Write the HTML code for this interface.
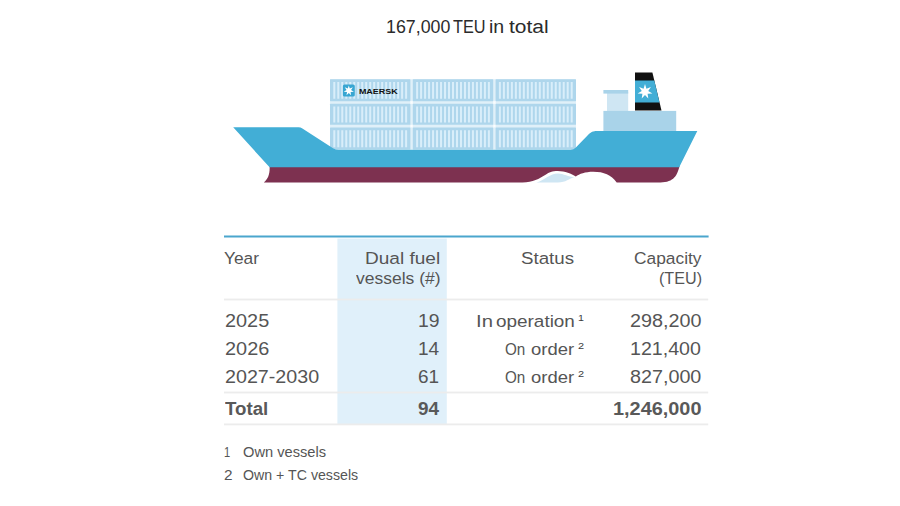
<!DOCTYPE html>
<html><head><meta charset="utf-8"><title>Dual fuel vessels</title>
<style>
html,body{margin:0;padding:0;background:#fff;}
body{width:900px;height:506px;position:relative;overflow:hidden;font-family:"Liberation Sans",sans-serif;}
.t{position:absolute;white-space:nowrap;line-height:1;display:inline-block;}
</style></head><body>
<svg width="900" height="506" viewBox="0 0 900 506" style="position:absolute;left:0;top:0">
<!-- table decoration -->
<rect x="337.4" y="238.6" width="109.4" height="185.6" fill="#e0f0fa"/>
<rect x="224" y="235.5" width="484.6" height="2" fill="#4ba6cd"/>
<rect x="224" y="298.6" width="484.2" height="1.8" fill="#ececec"/>
<rect x="224" y="391.6" width="484.2" height="1.8" fill="#ececec"/>
<rect x="224" y="423.5" width="484.2" height="1.8" fill="#ececec"/>
<!-- containers -->
<rect x="330.0" y="79.2" width="246.00" height="70.40" fill="#e0f0f9"/>
<rect x="410.40" y="101.20" width="2.4" height="2.60" fill="#fbfdfe"/>
<rect x="493.20" y="101.20" width="2.4" height="2.60" fill="#fbfdfe"/>
<rect x="410.40" y="124.80" width="2.4" height="2.60" fill="#fbfdfe"/>
<rect x="493.20" y="124.80" width="2.4" height="2.60" fill="#fbfdfe"/>
<rect x="330.00" y="79.20" width="80.4" height="22.00" rx="0.6" fill="#aed6ec"/>
<path d="M333.30,82.00h2v16.80h-2z M337.29,82.00h2v16.80h-2z M341.28,82.00h2v16.80h-2z M345.27,82.00h2v16.80h-2z M349.26,82.00h2v16.80h-2z M353.24,82.00h2v16.80h-2z M357.23,82.00h2v16.80h-2z M361.22,82.00h2v16.80h-2z M365.21,82.00h2v16.80h-2z M369.20,82.00h2v16.80h-2z M373.19,82.00h2v16.80h-2z M377.18,82.00h2v16.80h-2z M381.17,82.00h2v16.80h-2z M385.16,82.00h2v16.80h-2z M389.14,82.00h2v16.80h-2z M393.13,82.00h2v16.80h-2z M397.12,82.00h2v16.80h-2z M401.11,82.00h2v16.80h-2z M405.10,82.00h2v16.80h-2z" fill="#d9eefa"/>
<rect x="412.80" y="79.20" width="80.4" height="22.00" rx="0.6" fill="#aed6ec"/>
<path d="M416.10,82.00h2v16.80h-2z M420.09,82.00h2v16.80h-2z M424.08,82.00h2v16.80h-2z M428.07,82.00h2v16.80h-2z M432.06,82.00h2v16.80h-2z M436.04,82.00h2v16.80h-2z M440.03,82.00h2v16.80h-2z M444.02,82.00h2v16.80h-2z M448.01,82.00h2v16.80h-2z M452.00,82.00h2v16.80h-2z M455.99,82.00h2v16.80h-2z M459.98,82.00h2v16.80h-2z M463.97,82.00h2v16.80h-2z M467.96,82.00h2v16.80h-2z M471.94,82.00h2v16.80h-2z M475.93,82.00h2v16.80h-2z M479.92,82.00h2v16.80h-2z M483.91,82.00h2v16.80h-2z M487.90,82.00h2v16.80h-2z" fill="#d9eefa"/>
<rect x="495.60" y="79.20" width="80.4" height="22.00" rx="0.6" fill="#aed6ec"/>
<path d="M498.90,82.00h2v16.80h-2z M502.89,82.00h2v16.80h-2z M506.88,82.00h2v16.80h-2z M510.87,82.00h2v16.80h-2z M514.86,82.00h2v16.80h-2z M518.84,82.00h2v16.80h-2z M522.83,82.00h2v16.80h-2z M526.82,82.00h2v16.80h-2z M530.81,82.00h2v16.80h-2z M534.80,82.00h2v16.80h-2z M538.79,82.00h2v16.80h-2z M542.78,82.00h2v16.80h-2z M546.77,82.00h2v16.80h-2z M550.76,82.00h2v16.80h-2z M554.74,82.00h2v16.80h-2z M558.73,82.00h2v16.80h-2z M562.72,82.00h2v16.80h-2z M566.71,82.00h2v16.80h-2z M570.70,82.00h2v16.80h-2z" fill="#d9eefa"/>
<rect x="330.00" y="103.80" width="80.4" height="21.00" rx="0.6" fill="#aed6ec"/>
<path d="M333.30,106.60h2v15.80h-2z M337.29,106.60h2v15.80h-2z M341.28,106.60h2v15.80h-2z M345.27,106.60h2v15.80h-2z M349.26,106.60h2v15.80h-2z M353.24,106.60h2v15.80h-2z M357.23,106.60h2v15.80h-2z M361.22,106.60h2v15.80h-2z M365.21,106.60h2v15.80h-2z M369.20,106.60h2v15.80h-2z M373.19,106.60h2v15.80h-2z M377.18,106.60h2v15.80h-2z M381.17,106.60h2v15.80h-2z M385.16,106.60h2v15.80h-2z M389.14,106.60h2v15.80h-2z M393.13,106.60h2v15.80h-2z M397.12,106.60h2v15.80h-2z M401.11,106.60h2v15.80h-2z M405.10,106.60h2v15.80h-2z" fill="#d9eefa"/>
<rect x="412.80" y="103.80" width="80.4" height="21.00" rx="0.6" fill="#aed6ec"/>
<path d="M416.10,106.60h2v15.80h-2z M420.09,106.60h2v15.80h-2z M424.08,106.60h2v15.80h-2z M428.07,106.60h2v15.80h-2z M432.06,106.60h2v15.80h-2z M436.04,106.60h2v15.80h-2z M440.03,106.60h2v15.80h-2z M444.02,106.60h2v15.80h-2z M448.01,106.60h2v15.80h-2z M452.00,106.60h2v15.80h-2z M455.99,106.60h2v15.80h-2z M459.98,106.60h2v15.80h-2z M463.97,106.60h2v15.80h-2z M467.96,106.60h2v15.80h-2z M471.94,106.60h2v15.80h-2z M475.93,106.60h2v15.80h-2z M479.92,106.60h2v15.80h-2z M483.91,106.60h2v15.80h-2z M487.90,106.60h2v15.80h-2z" fill="#d9eefa"/>
<rect x="495.60" y="103.80" width="80.4" height="21.00" rx="0.6" fill="#aed6ec"/>
<path d="M498.90,106.60h2v15.80h-2z M502.89,106.60h2v15.80h-2z M506.88,106.60h2v15.80h-2z M510.87,106.60h2v15.80h-2z M514.86,106.60h2v15.80h-2z M518.84,106.60h2v15.80h-2z M522.83,106.60h2v15.80h-2z M526.82,106.60h2v15.80h-2z M530.81,106.60h2v15.80h-2z M534.80,106.60h2v15.80h-2z M538.79,106.60h2v15.80h-2z M542.78,106.60h2v15.80h-2z M546.77,106.60h2v15.80h-2z M550.76,106.60h2v15.80h-2z M554.74,106.60h2v15.80h-2z M558.73,106.60h2v15.80h-2z M562.72,106.60h2v15.80h-2z M566.71,106.60h2v15.80h-2z M570.70,106.60h2v15.80h-2z" fill="#d9eefa"/>
<rect x="330.00" y="127.40" width="80.4" height="22.20" rx="0.6" fill="#aed6ec"/>
<path d="M333.30,130.20h2v17.00h-2z M337.29,130.20h2v17.00h-2z M341.28,130.20h2v17.00h-2z M345.27,130.20h2v17.00h-2z M349.26,130.20h2v17.00h-2z M353.24,130.20h2v17.00h-2z M357.23,130.20h2v17.00h-2z M361.22,130.20h2v17.00h-2z M365.21,130.20h2v17.00h-2z M369.20,130.20h2v17.00h-2z M373.19,130.20h2v17.00h-2z M377.18,130.20h2v17.00h-2z M381.17,130.20h2v17.00h-2z M385.16,130.20h2v17.00h-2z M389.14,130.20h2v17.00h-2z M393.13,130.20h2v17.00h-2z M397.12,130.20h2v17.00h-2z M401.11,130.20h2v17.00h-2z M405.10,130.20h2v17.00h-2z" fill="#d9eefa"/>
<rect x="412.80" y="127.40" width="80.4" height="22.20" rx="0.6" fill="#aed6ec"/>
<path d="M416.10,130.20h2v17.00h-2z M420.09,130.20h2v17.00h-2z M424.08,130.20h2v17.00h-2z M428.07,130.20h2v17.00h-2z M432.06,130.20h2v17.00h-2z M436.04,130.20h2v17.00h-2z M440.03,130.20h2v17.00h-2z M444.02,130.20h2v17.00h-2z M448.01,130.20h2v17.00h-2z M452.00,130.20h2v17.00h-2z M455.99,130.20h2v17.00h-2z M459.98,130.20h2v17.00h-2z M463.97,130.20h2v17.00h-2z M467.96,130.20h2v17.00h-2z M471.94,130.20h2v17.00h-2z M475.93,130.20h2v17.00h-2z M479.92,130.20h2v17.00h-2z M483.91,130.20h2v17.00h-2z M487.90,130.20h2v17.00h-2z" fill="#d9eefa"/>
<rect x="495.60" y="127.40" width="80.4" height="22.20" rx="0.6" fill="#aed6ec"/>
<path d="M498.90,130.20h2v17.00h-2z M502.89,130.20h2v17.00h-2z M506.88,130.20h2v17.00h-2z M510.87,130.20h2v17.00h-2z M514.86,130.20h2v17.00h-2z M518.84,130.20h2v17.00h-2z M522.83,130.20h2v17.00h-2z M526.82,130.20h2v17.00h-2z M530.81,130.20h2v17.00h-2z M534.80,130.20h2v17.00h-2z M538.79,130.20h2v17.00h-2z M542.78,130.20h2v17.00h-2z M546.77,130.20h2v17.00h-2z M550.76,130.20h2v17.00h-2z M554.74,130.20h2v17.00h-2z M558.73,130.20h2v17.00h-2z M562.72,130.20h2v17.00h-2z M566.71,130.20h2v17.00h-2z M570.70,130.20h2v17.00h-2z" fill="#d9eefa"/>
<!-- maersk logo on container -->
<rect x="342.9" y="84.5" width="11.9" height="12" rx="1.6" fill="#38a6d2"/>
<polygon points="348.80,85.40 349.80,88.53 352.87,87.36 351.04,90.09 353.87,91.76 350.60,92.03 351.06,95.29 348.80,92.90 346.54,95.29 347.00,92.03 343.73,91.76 346.56,90.09 344.73,87.36 347.80,88.53" fill="#fff"/>
<text x="358.9" y="93.5" font-family="Liberation Sans, sans-serif" font-weight="bold" font-size="6.8" textLength="38.9" lengthAdjust="spacingAndGlyphs" fill="#111">MAERSK</text>
<!-- superstructure -->
<rect x="607" y="92" width="21.2" height="20" fill="#cfe6f3"/>
<rect x="603.4" y="90" width="24.8" height="3.6" fill="#a9d3e9"/>
<rect x="603.4" y="110.9" width="72.8" height="21" fill="#a9d3e9"/>
<!-- funnel -->
<polygon points="635,72.6 652.4,72.6 661.5,110.6 635,110.6" fill="#111"/>
<polygon points="635,80.6 654.3,80.6 659.5,102.4 635,102.4" fill="#42aed6"/>
<polygon points="645.00,84.10 646.43,88.73 650.94,86.96 648.22,90.97 652.41,93.39 647.58,93.76 648.30,98.55 645.00,95.00 641.70,98.55 642.42,93.76 637.59,93.39 641.78,90.97 639.06,86.96 643.57,88.73" fill="#fff"/>
<!-- hull maroon -->
<path d="M269.6,166 L679.5,166 C677.5,175 674,182.4 660.5,182.4 L616.7,182.4 C611,175 604,171.8 593.3,171.8 C585,171.8 579.5,174 575.8,176.5 C571.5,174 565,171.1 557.8,171.1 C552,171.1 549,172.6 546,174.4 C539,178.6 533,182.4 522.5,182.4 L263.8,182.4 C268,179 270,174 269.6,166 Z" fill="#7d3150"/>
<!-- light wave -->
<path d="M536.5,182.4 C545,180 550,173.4 558,173.4 C563.5,173.4 568.5,177 574.5,177.2 C569,178.5 566,182.4 558,182.4 Z" fill="#cfe6f3"/>
<!-- hull blue -->
<path d="M233.2,127.3 L298.5,127.3 Q300.6,127.3 302.4,128.4 L333.4,148.4 Q335.7,149.8 338.4,149.8 L570.6,149.8 Q573.5,149.8 575.6,147.7 L589.2,133.8 Q591.8,131.1 595.6,131.1 L697.3,131.1 L679.2,167.3 L269.6,167.3 Z" fill="#42aed6"/>
</svg>
<span class="t" style="top:19.00px;font-size:17.6px;color:#2b2b2b;left:385.67px;transform-origin:0 50%;transform:scaleX(1.0114);">167,000</span>
<span class="t" style="top:19.00px;font-size:17.6px;color:#2b2b2b;left:453.43px;transform-origin:0 50%;transform:scaleX(0.9240);">TEU</span>
<span class="t" style="top:19.00px;font-size:17.6px;color:#2b2b2b;left:489.48px;transform-origin:0 50%;transform:scaleX(1.1099);">in</span>
<span class="t" style="top:19.00px;font-size:17.6px;color:#2b2b2b;left:509.29px;transform-origin:0 50%;transform:scaleX(1.1914);">total</span>
<span class="t" style="top:250.00px;font-size:17.2px;color:#555555;left:224.21px;transform-origin:0 50%;transform:scaleX(1.0088);">Year</span>
<span class="t" style="top:250.00px;font-size:17.2px;color:#555555;left:365.03px;transform-origin:0 50%;transform:scaleX(1.1084);">Dual fuel</span>
<span class="t" style="top:270.00px;font-size:17.2px;color:#555555;left:355.51px;transform-origin:0 50%;transform:scaleX(1.0171);">vessels (#)</span>
<span class="t" style="top:250.00px;font-size:17.2px;color:#555555;left:521.16px;transform-origin:0 50%;transform:scaleX(1.0889);">Status</span>
<span class="t" style="top:250.00px;font-size:17.2px;color:#555555;left:633.53px;transform-origin:0 50%;transform:scaleX(1.0090);">Capacity</span>
<span class="t" style="top:270.00px;font-size:17.2px;color:#555555;left:658.59px;transform-origin:0 50%;transform:scaleX(0.9385);">(TEU)</span>
<span class="t" style="top:312.00px;font-size:18px;color:#555555;left:224.81px;transform-origin:0 50%;transform:scaleX(1.1046);">2025</span>
<span class="t" style="top:340.00px;font-size:18px;color:#555555;left:224.80px;transform-origin:0 50%;transform:scaleX(1.1059);">2026</span>
<span class="t" style="top:368.00px;font-size:18px;color:#555555;left:224.82px;transform-origin:0 50%;transform:scaleX(1.0939);">2027-2030</span>
<span class="t" style="top:401.00px;font-size:17.6px;color:#595959;font-weight:bold;left:224.61px;transform-origin:0 50%;transform:scaleX(1.0626);">Total</span>
<span class="t" style="top:312.00px;font-size:18px;color:#555555;left:418.15px;transform-origin:0 50%;transform:scaleX(1.0774);">19</span>
<span class="t" style="top:340.00px;font-size:18px;color:#555555;left:418.17px;transform-origin:0 50%;transform:scaleX(1.0587);">14</span>
<span class="t" style="top:368.00px;font-size:18px;color:#555555;left:418.25px;transform-origin:0 50%;transform:scaleX(1.0535);">61</span>
<span class="t" style="top:400.00px;font-size:18px;color:#595959;font-weight:bold;left:417.94px;transform-origin:0 50%;transform:scaleX(1.0488);">94</span>
<span class="t" style="top:313.00px;font-size:17.2px;color:#555555;left:475.72px;transform-origin:0 50%;transform:scaleX(1.1800);">In</span>
<span class="t" style="top:313.00px;font-size:17.2px;color:#555555;left:495.90px;transform-origin:0 50%;transform:scaleX(1.1005);">operation</span>
<span class="t" style="top:341.00px;font-size:17.2px;color:#555555;left:504.88px;transform-origin:0 50%;transform:scaleX(0.8864);">On</span>
<span class="t" style="top:341.00px;font-size:17.2px;color:#555555;left:530.62px;transform-origin:0 50%;transform:scaleX(1.0722);">order</span>
<span class="t" style="top:369.00px;font-size:17.2px;color:#555555;left:504.88px;transform-origin:0 50%;transform:scaleX(0.8864);">On</span>
<span class="t" style="top:369.00px;font-size:17.2px;color:#555555;left:530.62px;transform-origin:0 50%;transform:scaleX(1.0722);">order</span>
<span class="t" style="top:313.00px;font-size:9.8px;color:#3c3c3c;left:578.30px;transform-origin:0 50%;transform:scaleX(1.0853);">1</span>
<span class="t" style="top:341.00px;font-size:9.8px;color:#3c3c3c;left:578.25px;transform-origin:0 50%;transform:scaleX(1.1213);">2</span>
<span class="t" style="top:369.00px;font-size:9.8px;color:#3c3c3c;left:578.25px;transform-origin:0 50%;transform:scaleX(1.1213);">2</span>
<span class="t" style="top:312.00px;font-size:18px;color:#555555;left:629.71px;transform-origin:0 50%;transform:scaleX(1.0985);">298,200</span>
<span class="t" style="top:340.00px;font-size:18px;color:#555555;left:630.33px;transform-origin:0 50%;transform:scaleX(1.0889);">121,400</span>
<span class="t" style="top:368.00px;font-size:18px;color:#555555;left:629.86px;transform-origin:0 50%;transform:scaleX(1.0962);">827,000</span>
<span class="t" style="top:400.00px;font-size:18px;color:#595959;font-weight:bold;left:612.76px;transform-origin:0 50%;transform:scaleX(1.1047);">1,246,000</span>
<span class="t" style="top:445.00px;font-size:14px;color:#555555;left:224.37px;transform-origin:0 50%;transform:scaleX(0.7927);">1</span>
<span class="t" style="top:445.00px;font-size:14px;color:#555555;left:242.70px;transform-origin:0 50%;transform:scaleX(1.0462);">Own vessels</span>
<span class="t" style="top:468.00px;font-size:14px;color:#555555;left:224.23px;transform-origin:0 50%;transform:scaleX(1.0989);">2</span>
<span class="t" style="top:468.00px;font-size:14px;color:#555555;left:242.73px;transform-origin:0 50%;transform:scaleX(1.0128);">Own + TC vessels</span>
</body></html>
